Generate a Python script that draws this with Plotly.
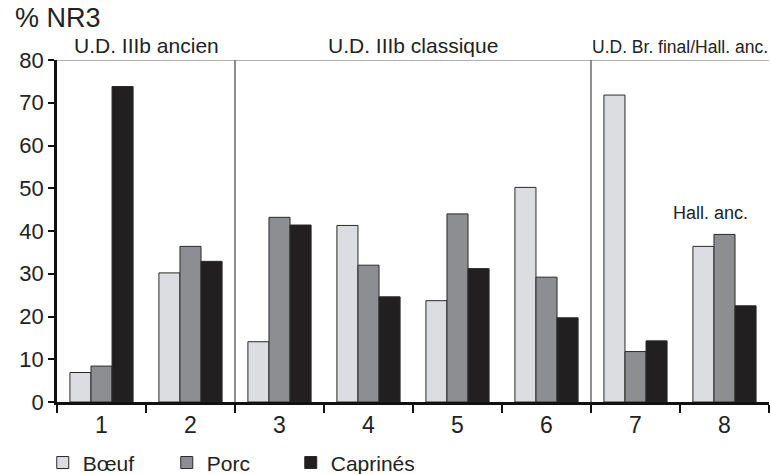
import plotly.graph_objects as go

categories = ["1", "2", "3", "4", "5", "6", "7", "8"]
boeuf = [6.9, 30.2, 14.1, 41.3, 23.7, 50.2, 71.8, 36.4]
porc = [8.4, 36.4, 43.2, 32.0, 44.0, 29.2, 11.8, 39.2]
caprines = [73.8, 32.9, 41.4, 24.6, 31.2, 19.7, 14.3, 22.5]
series_names = ["Bœuf", "Porc", "Caprinés"]
colors = ["#dcdde0", "#8d8e92", "#221f20"]
y_ticks = [0, 10, 20, 30, 40, 50, 60, 70, 80]

sections = [("U.D. IIIb ancien", 0.5, 21), ("U.D. IIIb classique", 3.5, 21),
            ("U.D. Br. final/Hall. anc.", 6.5, 17.5)]
separators = [1.5, 5.5]

FONT = "Liberation Sans, Arial, sans-serif"

fig = go.Figure()
for name, vals, col in zip(series_names, [boeuf, porc, caprines], colors):
    fig.add_trace(go.Bar(x=categories, y=vals, name=name,
                         marker=dict(color=col, line=dict(color="#2a2a2a", width=1))))

shapes = []
for s in separators:
    shapes.append(dict(type="line", xref="x", yref="y", x0=s, x1=s, y0=0, y1=80,
                       line=dict(color="#444", width=1.2), layer="below"))
shapes.append(dict(type="line", xref="paper", yref="y", x0=0, x1=1, y0=80, y1=80,
                   line=dict(color="#666", width=1)))

annotations = []
for text, xc, fs in sections:
    annotations.append(dict(x=xc, y=80, xref="x", yref="y", text=text, showarrow=False,
                            yanchor="bottom", yshift=1,
                            font=dict(family=FONT, size=fs, color="#222")))
annotations.append(dict(x=7, y=boeuf[7], xref="x", yref="y", text="Hall. anc.",
                        showarrow=False, yanchor="bottom", yshift=21, xshift=-14,
                        font=dict(family=FONT, size=18, color="#222")))
annotations.append(dict(x=-0.062, y=1.0, xref="paper", yref="paper", text="% NR3",
                        showarrow=False, xanchor="left", yanchor="bottom", yshift=25,
                        font=dict(family=FONT, size=27, color="#222")))

fig.update_layout(
    width=771, height=474,
    margin=dict(l=57, r=2, t=60, b=72, autoexpand=False),
    paper_bgcolor="white", plot_bgcolor="white",
    barmode="group", bargap=0.29, bargroupgap=0,
    font=dict(family=FONT, color="#222"),
    shapes=shapes, annotations=annotations,
    showlegend=True,
    legend=dict(orientation="h", x=-0.02, xanchor="left", y=-0.178, yanchor="middle",
                font=dict(family=FONT, size=21, color="#222"),
                entrywidth=79, entrywidthmode="pixels", itemclick=False,
                traceorder="normal", bgcolor="rgba(0,0,0,0)"),
)
fig.update_xaxes(type="category", tickson="boundaries", ticks="outside", ticklen=8,
                 tickwidth=2, tickcolor="#111", showline=True, linecolor="#111",
                 linewidth=3, showgrid=False, automargin=False,
                 tickfont=dict(family=FONT, size=23, color="#222"),
                 range=[-0.5, 7.5])
fig.update_yaxes(range=[0, 80], tickvals=y_ticks, ticks="outside", ticklen=6, tickwidth=2,
                 tickcolor="#111", showline=True, linecolor="#111", linewidth=2.5,
                 showgrid=False, zeroline=False, automargin=False,
                 tickfont=dict(family=FONT, size=22, color="#222"))

fig.write_html("out.html", config={"displayModeBar": False},
               post_script="document.body.style.margin='0';")
